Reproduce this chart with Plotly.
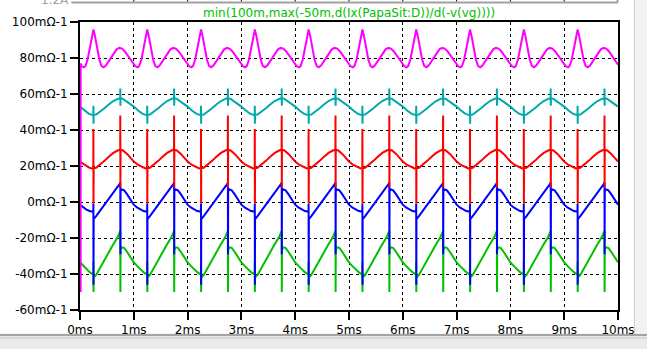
import numpy as np
import plotly.graph_objects as go

# ---------------- data ----------------
N_PERIODS = 10          # 1 ms periodic waveform over 0..10 ms
X_TICKS = [0, 1, 2, 3, 4, 5, 6, 7, 8, 9, 10]
X_TICK_TEXT = ["0ms", "1ms", "2ms", "3ms", "4ms", "5ms", "6ms", "7ms", "8ms", "9ms", "10ms"]
Y_TICKS = [100, 80, 60, 40, 20, 0, -20, -40, -60]
Y_TICK_TEXT = ["100mΩ-1", "80mΩ-1", "60mΩ-1", "40mΩ-1", "20mΩ-1", "0mΩ-1",
               "-20mΩ-1", "-40mΩ-1", "-60mΩ-1"]

# one period (phase in ms) of each stepped trace, values in mΩ^-1
GREEN_PH = [0.00, 0.06, 0.12, 0.18, 0.23, 0.247, 0.249, 0.251, 0.254, 0.30, 0.40,
            0.50, 0.60, 0.70, 0.745, 0.749, 0.751, 0.754, 0.78, 0.82, 0.87, 0.93]
GREEN_V = [-33.5, -35.5, -37.5, -39.0, -40.0, -40.0, -33.0, -50.0, -42.0, -40.5, -35.0,
           -29.5, -24.5, -19.5, -17.0, -16.0, -50.0, -26.5, -25.2, -25.5, -27.5, -30.5]

BLUE_PH = [0.00, 0.06, 0.12, 0.18, 0.23, 0.247, 0.249, 0.251, 0.254, 0.30, 0.40,
           0.50, 0.60, 0.70, 0.745, 0.749, 0.751, 0.754, 0.78, 0.82, 0.87, 0.93]
BLUE_V = [-1.5, -3.0, -4.2, -5.0, -5.3, -5.5, -1.0, -46.0, -9.5, -7.8, -3.8,
          0.2, 4.2, 8.3, 10.3, 11.0, -29.0, 6.0, 7.0, 6.5, 4.5, 1.5]

RED_PH = [0.00, 0.08, 0.16, 0.22, 0.247, 0.249, 0.251, 0.254, 0.30, 0.38, 0.46,
          0.54, 0.62, 0.70, 0.747, 0.749, 0.751, 0.754, 0.80, 0.88, 0.94]
RED_V = [22.5, 20.6, 19.2, 18.6, 18.5, 40.5, -1.0, 18.7, 19.0, 20.8, 23.0,
         25.3, 27.3, 28.6, 29.0, 48.0, 8.0, 29.0, 28.6, 26.6, 24.5]

CYAN_PH = [0.00, 0.08, 0.16, 0.22, 0.247, 0.249, 0.251, 0.254, 0.30, 0.38, 0.46,
           0.54, 0.62, 0.70, 0.747, 0.749, 0.751, 0.754, 0.80, 0.88, 0.94]
CYAN_V = [53.0, 50.8, 49.1, 48.4, 48.3, 53.5, 43.5, 48.4, 48.6, 50.2, 52.2,
          54.3, 56.1, 57.3, 57.6, 63.0, 53.5, 57.6, 57.3, 55.6, 54.3]

MAG_PH = [0.00, 0.03, 0.07, 0.10, 0.14, 0.18, 0.22, 0.25, 0.28, 0.32, 0.36, 0.40,
          0.44, 0.48, 0.53, 0.58, 0.63, 0.68, 0.73, 0.78, 0.83, 0.88, 0.93, 0.97]
MAG_V = [76.3, 75.4, 74.8, 75.5, 79.0, 85.0, 92.0, 95.8, 92.0, 85.0, 79.0, 75.5,
         74.8, 75.8, 78.0, 80.5, 83.0, 84.8, 85.6, 85.2, 83.8, 81.6, 79.2, 77.5]
MAG_START_T = [0.012, 0.012]    # initial transient right after t = 0
MAG_START_V = [-50.0, 77.0]

TITLE = "min(100m,max(-50m,d(Ix(PapaSit:D))/d(-v(vg))))"

COLORS = {"green": "#00c000", "blue": "#0000ff", "red": "#ff0000",
          "cyan": "#00aaaa", "magenta": "#ff00ff"}


def periodic(phase, vals):
    t = np.concatenate([k + np.asarray(phase) for k in range(N_PERIODS)] + [[N_PERIODS]])
    v = np.concatenate([np.asarray(vals)] * N_PERIODS + [[vals[0]]])
    return t, v


fig = go.Figure()
for name, ph, vals in [("green", GREEN_PH, GREEN_V), ("blue", BLUE_PH, BLUE_V),
                       ("red", RED_PH, RED_V), ("cyan", CYAN_PH, CYAN_V)]:
    t, v = periodic(ph, vals)
    fig.add_trace(go.Scatter(x=t, y=v, mode="lines",
                             line=dict(color=COLORS[name], width=2), hoverinfo="skip"))

tm, vm = periodic(MAG_PH, MAG_V)
tm = np.concatenate([MAG_START_T, tm[1:]])
vm = np.concatenate([MAG_START_V, vm[1:]])
fig.add_trace(go.Scatter(x=tm, y=vm, mode="lines",
                         line=dict(color=COLORS["magenta"], width=2), hoverinfo="skip"))

FONT = dict(family="DejaVu Sans", size=12, color="black")

axis_common = dict(showgrid=True, gridcolor="black", gridwidth=1, griddash="3px,3px",
                   showline=True, linecolor="black", linewidth=2, mirror=True,
                   ticks="outside", ticklen=8, tickwidth=2, tickcolor="black",
                   zeroline=False, tickfont=FONT, layer="below traces")

fig.update_layout(
    width=647, height=349,
    margin=dict(l=67, r=21, t=22, b=33),
    paper_bgcolor="white", plot_bgcolor="white",
    showlegend=False,
    xaxis=dict(range=[0, 10], tickvals=X_TICKS, ticktext=X_TICK_TEXT, **axis_common),
    yaxis=dict(range=[-60, 100], tickvals=Y_TICKS, ticktext=Y_TICK_TEXT, **axis_common),
)

# title of the trace (LTspice style, green)
fig.add_annotation(text=TITLE, xref="paper", yref="paper", x=0.5, y=(316 - 13) / 294,
                   xanchor="center", yanchor="middle", showarrow=False,
                   font=dict(family="DejaVu Sans", size=12, color="#00c000"))

# remains of the pane above (cut off at the top of the window, as in the reference)
fig.add_annotation(text="1.2A", xref="paper", yref="paper", x=(58 - 67) / 559, y=(316 - 0) / 294,
                   xanchor="right", yanchor="middle", showarrow=False,
                   font=dict(family="DejaVu Sans", size=12, color="#a0a0a0"))
fig.add_shape(type="line", xref="paper", yref="paper",
              x0=(58 - 67) / 559, x1=(626 - 67) / 559, y0=(316 - 2) / 294, y1=(316 - 2) / 294,
              line=dict(color="#a0a0a0", width=2))
fig.add_shape(type="line", xref="paper", yref="paper",
              x0=(625.5 - 67) / 559, x1=(625.5 - 67) / 559, y0=(316 - 2) / 294, y1=(316 + 5) / 294,
              line=dict(color="#a0a0a0", width=2))
for xv in X_TICKS[1:-1]:
    fig.add_shape(type="line", xref="x", yref="paper", x0=xv, x1=xv,
                  y0=(316 - 1) / 294, y1=(316 + 5) / 294, line=dict(color="black", width=1))

# window chrome at right and bottom
fig.add_shape(type="rect", xref="paper", yref="paper",
              x0=(643 - 67) / 559, x1=(660 - 67) / 559, y0=(316 - 360) / 294, y1=(316 + 10) / 294,
              fillcolor="#f2f2f2", line=dict(width=0), layer="below")
fig.add_shape(type="line", xref="paper", yref="paper",
              x0=(643 - 67) / 559, x1=(643 - 67) / 559, y0=(316 - 340) / 294, y1=(316 + 10) / 294,
              line=dict(color="#c8c8c8", width=1))
fig.add_shape(type="rect", xref="paper", yref="paper",
              x0=(-80 - 67) / 559, x1=(660 - 67) / 559, y0=(316 - 360) / 294, y1=(316 - 340) / 294,
              fillcolor="#ebebeb", line=dict(width=0), layer="below")
fig.add_shape(type="line", xref="paper", yref="paper",
              x0=(-80 - 67) / 559, x1=(660 - 67) / 559, y0=(316 - 341.5) / 294, y1=(316 - 341.5) / 294,
              line=dict(color="#8c8c8c", width=1.5))
fig.add_shape(type="line", xref="paper", yref="paper",
              x0=(-80 - 67) / 559, x1=(660 - 67) / 559, y0=(316 - 344.5) / 294, y1=(316 - 344.5) / 294,
              line=dict(color="#c4c4c4", width=1))

fig.write_html("out.html")
